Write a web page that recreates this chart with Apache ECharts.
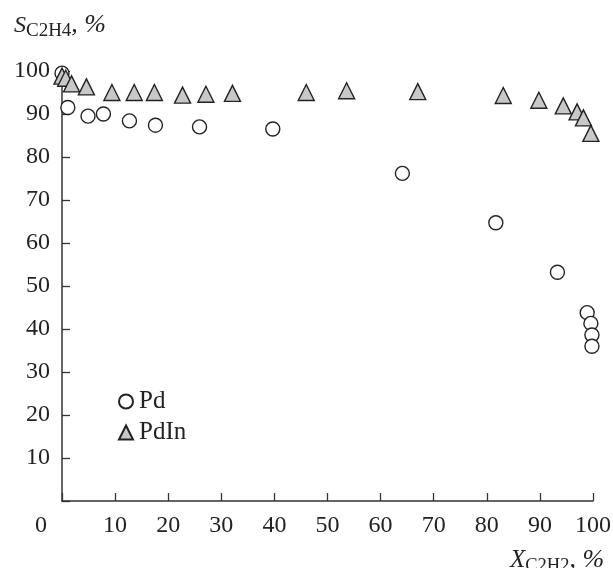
<!DOCTYPE html>
<html>
<head>
<meta charset="utf-8">
<script src="https://cdn.jsdelivr.net/npm/echarts@6/dist/echarts.min.js"></script>
<style>html,body{margin:0;padding:0;background:#fff}#c{width:613px;height:568px}</style>
</head>
<body>
<div id="c"></div>
<script>
// Pd catalyst: conversion X(C2H2), selectivity S(C2H4)
const pdX = [0, 1.1, 4.9, 7.8, 12.7, 17.6, 25.9, 39.7, 64.1, 81.7, 93.3, 98.9, 99.6, 99.8, 99.8];
const pdS = [99.5, 91.5, 89.5, 90.0, 88.4, 87.4, 87.0, 86.5, 76.2, 64.7, 53.2, 43.8, 41.3, 38.6, 36.0];
// PdIn catalyst
const pdinX = [0, 0.7, 1.8, 4.6, 9.4, 13.6, 17.4, 22.7, 27.1, 32.1, 46.0, 53.6, 67.0, 83.1, 89.8, 94.4, 97.0, 98.2, 99.6];
const pdinS = [98.8, 98.3, 97.0, 96.3, 95.0, 95.0, 95.0, 94.4, 94.6, 94.8, 95.0, 95.4, 95.2, 94.3, 93.2, 91.9, 90.5, 89.1, 85.5];
const seriesNames = ['Pd', 'PdIn'];
const xTicks = [0, 10, 20, 30, 40, 50, 60, 70, 80, 90, 100];
const yTicks = [0, 10, 20, 30, 40, 50, 60, 70, 80, 90, 100];

const FONT = '"Liberation Serif", "DejaVu Serif", serif';
const INK = '#222';
const pairs = (xs, ys) => xs.map((x, i) => [x, ys[i]]);

const chart = echarts.init(document.getElementById('c'), null, {renderer: 'canvas'});
chart.setOption({
  animation: false,
  backgroundColor: '#fff',
  grid: {left: 62, right: 20, top: 71, bottom: 67, containLabel: false, outerBoundsMode: 'none'},
  legend: {
    orient: 'vertical', left: 113, top: 384,
    itemWidth: 14, itemHeight: 14, itemGap: 6,
    textStyle: {fontFamily: FONT, fontSize: 25, color: INK, padding: [0, 0, 0, 1]},
    data: seriesNames
  },
  xAxis: {
    type: 'value', min: xTicks[0], max: xTicks[xTicks.length - 1], interval: 10,
    axisLine: {lineStyle: {color: '#333', width: 1.5}},
    axisTick: {inside: true, length: 8, lineStyle: {color: '#333', width: 1.3}},
    axisLabel: {fontFamily: FONT, fontSize: 24, color: INK, margin: 13,
      formatter: v => (v === 0 ? '' : String(v))},
    splitLine: {show: false},
    name: '{x|X}{sub|C2H2}{c|, %}',
    nameLocation: 'end', nameGap: -83,
    nameTextStyle: {
      verticalAlign: 'top', align: 'left', padding: [44, 0, 0, 0],
      rich: {
        x: {fontFamily: FONT, fontSize: 25, fontStyle: 'italic', color: INK},
        sub: {fontFamily: FONT, fontSize: 18.5, color: INK, padding: [12, 0, 0, 0]},
        c: {fontFamily: FONT, fontSize: 26, fontStyle: 'italic', color: INK}
      }
    }
  },
  yAxis: {
    type: 'value', min: yTicks[0], max: yTicks[yTicks.length - 1], interval: 10,
    axisLine: {lineStyle: {color: '#333', width: 1.5}},
    axisTick: {inside: true, length: 8, lineStyle: {color: '#333', width: 1.3}},
    axisLabel: {fontFamily: FONT, fontSize: 24, color: INK, margin: 12,
      formatter: v => (v === 0 ? '' : String(v))},
    splitLine: {show: false},
    name: '{s|S}{sub|C2H4}{c|, %}',
    nameLocation: 'end', nameGap: 30,
    nameTextStyle: {
      padding: [0, 4, 0, 0],
      rich: {
        s: {fontFamily: FONT, fontSize: 24, fontStyle: 'italic', color: INK},
        sub: {fontFamily: FONT, fontSize: 19, color: INK, padding: [12, 0, 0, 0]},
        c: {fontFamily: FONT, fontSize: 26, fontStyle: 'italic', color: INK}
      }
    }
  },
  graphic: [{
    type: 'text', left: 35, top: 514,
    style: {text: String(xTicks[0]), font: '24px ' + FONT, fill: INK}
  }],
  series: [
    {
      name: seriesNames[0], type: 'scatter', clip: false,
      symbol: 'circle', symbolSize: 14,
      itemStyle: {color: '#fff', borderColor: INK, borderWidth: 1.4, opacity: 1},
      data: pairs(pdX, pdS), z: 2
    },
    {
      name: seriesNames[1], type: 'scatter', clip: false,
      symbol: 'triangle', symbolSize: 16,
      itemStyle: {color: '#c8c8c8', borderColor: INK, borderWidth: 1.4, opacity: 1},
      data: pairs(pdinX, pdinS), z: 3
    }
  ]
});
</script>
</body>
</html>
